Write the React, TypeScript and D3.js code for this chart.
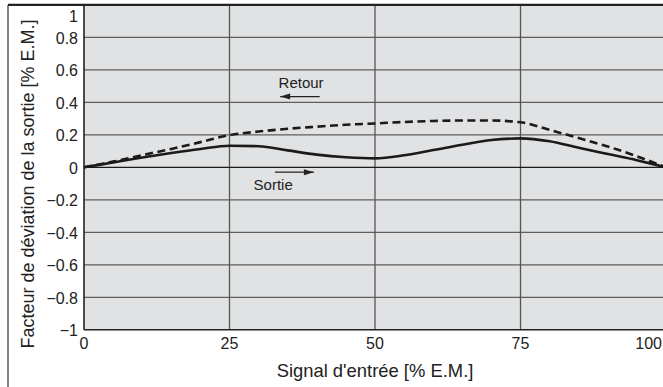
import React, { useEffect, useRef } from 'react';
import * as d3 from 'd3';

// Input signal [% E.M.]
const inputSignal = [0, 5, 10, 15, 20, 25, 30, 35, 40, 45, 50, 55, 60, 65, 70, 75, 80, 85, 90, 95, 100];
// Output deviation, rising direction (Sortie, solid)
const sortieValues = [0, 0.03, 0.06, 0.088, 0.113, 0.133, 0.13, 0.104, 0.078, 0.062, 0.055, 0.074, 0.106, 0.139, 0.168, 0.178, 0.16, 0.12, 0.082, 0.044, 0];
// Output deviation, return direction (Retour, dashed)
const retourValues = [0, 0.035, 0.075, 0.113, 0.155, 0.198, 0.22, 0.237, 0.25, 0.262, 0.27, 0.279, 0.285, 0.288, 0.288, 0.277, 0.23, 0.18, 0.128, 0.068, 0];

const xTicks = [0, 25, 50, 75, 100];
const yTicks = [-1, -0.8, -0.6, -0.4, -0.2, 0, 0.2, 0.4, 0.6, 0.8, 1];

// annotation labels: [x, y] in data units, arrow start/end
const annotations = [
  { label: 'Retour', x: 37.3, y: 0.49, from: [40.5, 0.435], to: [33.7, 0.435] },
  { label: 'Sortie', x: 32.5, y: -0.14, from: [32.8, -0.03], to: [39.5, -0.03] },
];

const FONT = '"Liberation Sans", Arial, Helvetica, sans-serif';

export default function App() {
  const ref = useRef<SVGSVGElement>(null);

  useEffect(() => {
    if (!ref.current) return;
    const svg = d3.select(ref.current);
    svg.selectAll('*').remove();

    const width = 663;
    const height = 387;
    const x = d3.scaleLinear().domain([0, 100]).range([84, 666]);
    const y = d3.scaleLinear().domain([-1, 1]).range([329.8, 4.8]);

    svg.append('rect').attr('width', width).attr('height', height).attr('fill', '#fff');

    // outer frame
    svg.append('line').attr('x1', 8).attr('x2', 8).attr('y1', 5).attr('y2', height)
      .attr('stroke', '#333').attr('stroke-width', 1.2);

    // plot background
    svg.append('rect')
      .attr('x', x(0)).attr('y', y(1))
      .attr('width', x(100) - x(0)).attr('height', y(-1) - y(1))
      .attr('fill', '#e1e2e4');

    // horizontal grid
    svg.append('g').selectAll('line')
      .data(yTicks.filter(d => d !== 0 && d !== 1 && d !== -1))
      .enter().append('line')
      .attr('x1', x(0)).attr('x2', x(100))
      .attr('y1', d => y(d)).attr('y2', d => y(d))
      .attr('stroke', '#5e5e5e').attr('stroke-width', 1.3);

    // vertical grid
    svg.append('g').selectAll('line')
      .data(xTicks.filter(d => d !== 0 && d !== 100))
      .enter().append('line')
      .attr('x1', d => x(d)).attr('x2', d => x(d))
      .attr('y1', y(1)).attr('y2', y(-1))
      .attr('stroke', '#555').attr('stroke-width', 1.3);

    // zero line
    svg.append('line')
      .attr('x1', x(0)).attr('x2', x(100))
      .attr('y1', y(0)).attr('y2', y(0))
      .attr('stroke', '#1a1a1a').attr('stroke-width', 1.2);

    // axes lines
    svg.append('line').attr('x1', x(0)).attr('x2', x(0)).attr('y1', y(1)).attr('y2', y(-1))
      .attr('stroke', '#222').attr('stroke-width', 1.6);
    svg.append('line').attr('x1', x(0)).attr('x2', x(100)).attr('y1', y(-1)).attr('y2', y(-1))
      .attr('stroke', '#222').attr('stroke-width', 1.6);
    svg.append('line').attr('x1', 8).attr('x2', width).attr('y1', y(1)).attr('y2', y(1))
      .attr('stroke', '#222').attr('stroke-width', 2.2);

    // curves
    const line = d3.line<number>()
      .x((_, i) => x(inputSignal[i]))
      .y(d => y(d))
      .curve(d3.curveMonotoneX);

    svg.append('path').attr('d', line(retourValues))
      .attr('fill', 'none').attr('stroke', '#1a1a1a')
      .attr('stroke-width', 2.6).attr('stroke-dasharray', '8,4.5');

    svg.append('path').attr('d', line(sortieValues))
      .attr('fill', 'none').attr('stroke', '#1a1a1a')
      .attr('stroke-width', 2.6);

    // tick labels
    const fmt = (d: number) => (d < 0 ? '\u2212' : '') + String(Math.abs(d));
    svg.append('g').selectAll('text')
      .data(yTicks)
      .enter().append('text')
      .attr('x', 78)
      .attr('y', d => (d === 1 ? 22 : y(d)))
      .attr('dy', d => (d === 1 ? 0 : '0.4em'))
      .attr('text-anchor', 'end')
      .attr('font-family', FONT).attr('font-size', 16).attr('fill', '#222')
      .text(fmt);

    svg.append('g').selectAll('text')
      .data(xTicks)
      .enter().append('text')
      .attr('x', d => (d === 100 ? 662 : x(d)))
      .attr('y', 349)
      .attr('text-anchor', d => (d === 100 ? 'end' : 'middle'))
      .attr('font-family', FONT).attr('font-size', 16).attr('fill', '#222')
      .text(d => String(d));

    // axis titles
    svg.append('text')
      .attr('x', 375).attr('y', 377)
      .attr('text-anchor', 'middle')
      .attr('font-family', FONT).attr('font-size', 18.4).attr('fill', '#222')
      .text("Signal d'entrée [% E.M.]");

    svg.append('text')
      .attr('transform', 'translate(34,184) rotate(-90)')
      .attr('text-anchor', 'middle')
      .attr('font-family', FONT).attr('font-size', 18).attr('fill', '#222')
      .text('Facteur de déviation de la sortie [% E.M.]');

    // annotations
    const ann = svg.append('g').selectAll('g').data(annotations).enter().append('g');
    ann.append('text')
      .attr('x', d => x(d.x)).attr('y', d => y(d.y))
      .attr('text-anchor', 'middle')
      .attr('font-family', FONT).attr('font-size', 15).attr('fill', '#222')
      .text(d => d.label);
    ann.append('line')
      .attr('x1', d => x(d.from[0])).attr('y1', d => y(d.from[1]))
      .attr('x2', d => x(d.to[0])).attr('y2', d => y(d.to[1]))
      .attr('stroke', '#222').attr('stroke-width', 1.2);
    ann.append('path')
      .attr('d', d => {
        const tx = x(d.to[0]);
        const ty = y(d.to[1]);
        const dir = Math.sign(x(d.to[0]) - x(d.from[0]));
        return `M${tx},${ty} L${tx - dir * 10},${ty - 3} L${tx - dir * 10},${ty + 3} Z`;
      })
      .attr('fill', '#222');
  }, []);

  return (
    <svg ref={ref} width={663} height={387}
      style={{ position: 'absolute', left: 0, top: 0, display: 'block' }} />
  );
}
